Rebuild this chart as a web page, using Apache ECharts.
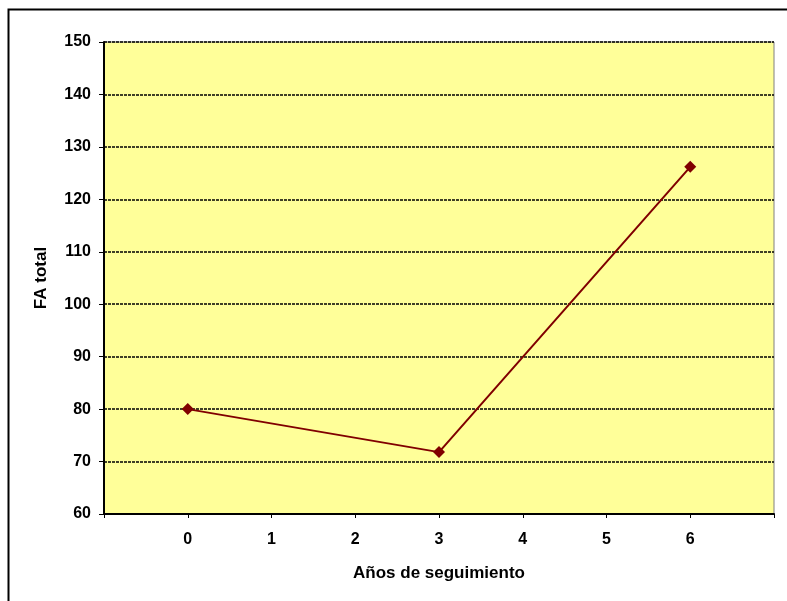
<!DOCTYPE html>
<html>
<head>
<meta charset="utf-8">
<script src="https://cdn.jsdelivr.net/npm/echarts@6/dist/echarts.min.js"></script>
<style>
  html, body { margin: 0; padding: 0; background: #ffffff; }
  #chart { width: 787px; height: 601px; }
</style>
</head>
<body>
<div id="chart"></div>
<script>
// Follow-up years and total FA values
var years = [0, 3, 6];
var faTotal = [80, 71.8, 126.2];
var yTicks = [60, 70, 80, 90, 100, 110, 120, 130, 140, 150];

var chart = echarts.init(document.getElementById('chart'), null, { renderer: 'canvas' });
var font = '"Liberation Sans", Arial, sans-serif';

var option = {
  animation: false,
  backgroundColor: '#ffffff',
  graphic: [{
    type: 'rect',
    shape: { x: 8.5, y: 9.5, width: 820, height: 640 },
    style: { fill: 'none', stroke: '#000000', lineWidth: 2 },
    z: -1
  }],
  grid: {
    left: 104, right: 13, top: 42, bottom: 87,
    show: true,
    backgroundColor: '#FFFF99',
    borderColor: '#808080',
    borderWidth: 1
  },
  xAxis: {
    type: 'value',
    min: -1, max: 7, interval: 1,
    name: 'Años de seguimiento',
    nameLocation: 'middle',
    nameGap: 51,
    nameTextStyle: { fontFamily: font, fontWeight: 'bold', fontSize: 17, color: '#000' },
    axisLine: { onZero: false, lineStyle: { color: '#000', width: 2 } },
    axisTick: { show: true, length: 4, lineStyle: { color: '#000', width: 1 } },
    axisLabel: {
      fontFamily: font, fontWeight: 'bold', fontSize: 16, color: '#000', margin: 18,
      formatter: function (v) { return (v < years[0] || v > years[years.length - 1]) ? '' : String(v); }
    },
    splitLine: { show: false }
  },
  yAxis: {
    type: 'value',
    min: yTicks[0], max: yTicks[yTicks.length - 1], interval: 10,
    name: 'FA total',
    nameLocation: 'middle',
    nameGap: 54,
    nameTextStyle: { fontFamily: font, fontWeight: 'bold', fontSize: 17, color: '#000' },
    axisLine: { show: true, onZero: false, lineStyle: { color: '#000', width: 2 } },
    axisTick: { show: true, length: 5, lineStyle: { color: '#000', width: 1 } },
    axisLabel: { fontFamily: font, fontWeight: 'bold', fontSize: 16, color: '#000', margin: 13 },
    splitLine: { show: true, lineStyle: { color: '#000', width: 1.5, type: [3, 1] } }
  },
  series: [{
    type: 'line',
    data: years.map(function (y, i) { return [y, faTotal[i]]; }),
    symbol: 'diamond',
    symbolSize: 12,
    itemStyle: { color: '#800000' },
    lineStyle: { color: '#800000', width: 2 },
    z: 5
  }]
};
chart.setOption(option);
</script>
</body>
</html>
